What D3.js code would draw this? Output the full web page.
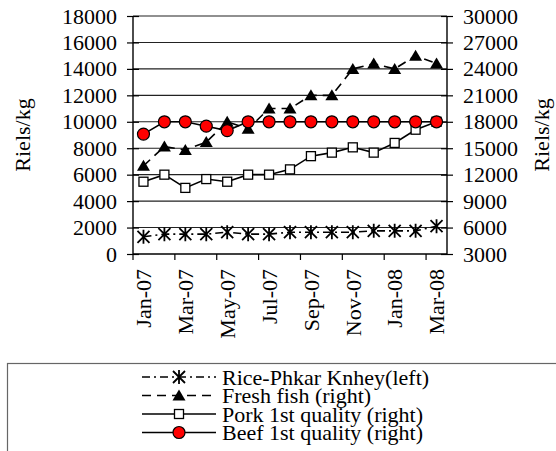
<!DOCTYPE html>
<html>
<head>
<meta charset="utf-8">
<script src="https://cdn.jsdelivr.net/npm/d3@7"></script>
<style>
  body { margin: 0; background: #fff; }
  svg text { font-family: "Liberation Serif", "Times New Roman", "DejaVu Serif", serif; }
</style>
</head>
<body>
<script>
// ==================== Data ============================
const months = ['Jan-07','Feb-07','Mar-07','Apr-07','May-07','Jun-07','Jul-07','Aug-07',
                'Sep-07','Oct-07','Nov-07','Dec-07','Jan-08','Feb-08','Mar-08'];
const rice = [1300,1500,1500,1500,1650,1500,1500,1650,1650,1650,1650,1750,1750,1750,2100];   // left
const fish = [13000,15200,14800,15700,18000,17200,19500,19500,21000,21000,24000,24600,24000,25500,24600]; // right
const pork = [11200,12000,10500,11500,11200,12000,12000,12600,14100,14500,15100,14500,15600,17100,18000]; // right
const beef = [16600,18000,18000,17500,17000,18000,18000,18000,18000,18000,18000,18000,18000,18000,18000]; // right
const leftTicks = [0,2000,4000,6000,8000,10000,12000,14000,16000,18000];
const rightTicks = [3000,6000,9000,12000,15000,18000,21000,24000,27000,30000];
const labelMonths = ['Jan-07','Mar-07','May-07','Jul-07','Sep-07','Nov-07','Jan-08','Mar-08'];
const legendNames = ['Rice-Phkar Knhey(left)','Fresh fish (right)','Pork 1st quality (right)','Beef 1st quality (right)'];

// ==================== Set up ============================
const W = 556, H = 451;
const plot = {left: 133, right: 447, top: 16, bottom: 254};
const fontSize = 22;
const serif = '"Liberation Serif", "Times New Roman", "DejaVu Serif", serif';

const x = d3.scaleBand().domain(months).range([plot.left, plot.right]);
const yLeft = d3.scaleLinear().domain([0, 18000]).range([plot.bottom, plot.top]);
const yRight = d3.scaleLinear().domain([3000, 30000]).range([plot.bottom, plot.top]);
const cx = (i) => x(months[i]) + x.bandwidth() / 2;

const svg = d3.select('body').append('svg')
    .attr('width', W)
    .attr('height', H)
    .attr('font-family', serif);

// Gridlines
svg.append('g')
  .selectAll('line')
  .data(leftTicks.slice(1))
  .enter().append('line')
    .attr('x1', plot.left).attr('x2', plot.right)
    .attr('y1', d => yLeft(d)).attr('y2', d => yLeft(d))
    .attr('stroke', '#222').attr('stroke-width', 1.1);

// Left axis
const gl = svg.append('g')
    .attr('transform', `translate(${plot.left},0)`)
    .call(d3.axisLeft(yLeft).tickValues(leftTicks).tickFormat(d3.format('d')).tickSize(6).tickPadding(10));
gl.attr('font-family', serif).attr('font-size', fontSize);
gl.select('.domain').remove();
gl.selectAll('.tick line').attr('x1', -6).attr('x2', 6).attr('stroke', '#000').attr('stroke-width', 1.2);
gl.selectAll('.tick text').style('font-family', serif).style('font-size', fontSize + 'px').attr('fill', '#000');
gl.append('line').attr('x1', 0).attr('x2', 0).attr('y1', plot.top).attr('y2', plot.bottom)
    .attr('stroke', '#000').attr('stroke-width', 1.4);

// Right axis
const gr = svg.append('g')
    .attr('transform', `translate(${plot.right},0)`)
    .call(d3.axisRight(yRight).tickValues(rightTicks).tickFormat(d3.format('d')).tickSize(6).tickPadding(10));
gr.attr('font-family', serif).attr('font-size', fontSize);
gr.select('.domain').remove();
gr.selectAll('.tick line').attr('x1', -6).attr('x2', 6).attr('stroke', '#000').attr('stroke-width', 1.2);
gr.selectAll('.tick text').style('font-family', serif).style('font-size', fontSize + 'px').attr('fill', '#000');
gr.append('line').attr('x1', 0).attr('x2', 0).attr('y1', plot.top).attr('y2', plot.bottom)
    .attr('stroke', '#000').attr('stroke-width', 1.4);

// X axis
const gx = svg.append('g')
    .attr('transform', `translate(0,${plot.bottom})`)
    .call(d3.axisBottom(x).tickValues(labelMonths).tickSize(0).tickPadding(0));
gx.attr('font-family', serif).attr('font-size', fontSize);
gx.select('.domain').remove();
gx.selectAll('.tick text')
    .style('font-family', serif)
    .style('font-size', fontSize + 'px')
    .attr('fill', '#000')
    .attr('text-anchor', 'end')
    .attr('transform', 'rotate(-90)')
    .attr('x', -15)
    .attr('y', 0)
    .attr('dy', '0.35em');
gx.append('line').attr('x1', plot.left).attr('x2', plot.right).attr('y1', 0).attr('y2', 0)
    .attr('stroke', '#000').attr('stroke-width', 1.4);
gx.selectAll('.bt')
  .data(months.filter((d, i) => i % 2 === 0))
  .enter().append('line')
    .attr('x1', d => x(d)).attr('x2', d => x(d))
    .attr('y1', 0).attr('y2', 6)
    .attr('stroke', '#000').attr('stroke-width', 1.2);

// Axis titles
svg.append('text')
    .attr('transform', `translate(30,${(plot.top + plot.bottom) / 2}) rotate(-90)`)
    .attr('text-anchor', 'middle')
    .style('font-family', serif)
    .style('font-size', fontSize + 'px')
    .text('Riels/kg');
svg.append('text')
    .attr('transform', `translate(549,${(plot.top + plot.bottom) / 2}) rotate(-90)`)
    .attr('text-anchor', 'middle')
    .style('font-family', serif)
    .style('font-size', fontSize + 'px')
    .text('Riels/kg');

// ==================== Markers ============================
const drawMarker = (g, type) => {
  if (type === 'star') {
    g.append('path')
      .attr('d', 'M0,-7V7M-6,-6L6,6M-6,6L6,-6')
      .attr('stroke', '#000').attr('stroke-width', 1.8).attr('fill', 'none');
  } else if (type === 'tri') {
    g.append('path')
      .attr('d', 'M0,-6L6.5,5L-6.5,5Z')
      .attr('fill', '#000');
  } else if (type === 'square') {
    g.append('rect')
      .attr('x', -4.5).attr('y', -4.5).attr('width', 9).attr('height', 9)
      .attr('fill', '#fff').attr('stroke', '#000').attr('stroke-width', 1.3);
  } else if (type === 'circle') {
    g.append('circle')
      .attr('r', 6)
      .attr('fill', '#ff0000').attr('stroke', '#000').attr('stroke-width', 1.2);
  }
};

const series = [
  {name: legendNames[0], values: rice, y: yLeft, marker: 'star', dash: '8,4,2,4'},
  {name: legendNames[1], values: fish, y: yRight, marker: 'tri', dash: '9,6'},
  {name: legendNames[2], values: pork, y: yRight, marker: 'square', dash: null},
  {name: legendNames[3], values: beef, y: yRight, marker: 'circle', dash: null}
];

series.forEach(s => {
  const line = d3.line()
      .x((d, i) => cx(i))
      .y(d => s.y(d));
  svg.append('path')
      .datum(s.values)
      .attr('d', line)
      .attr('fill', 'none')
      .attr('stroke', '#000')
      .attr('stroke-width', 1.6)
      .attr('stroke-dasharray', s.dash);
  s.values.forEach((v, i) => {
    const g = svg.append('g').attr('transform', `translate(${cx(i)},${s.y(v)})`);
    drawMarker(g, s.marker);
  });
});

// ==================== Legend ============================
svg.append('rect')
    .attr('x', 7.5).attr('y', 363.5)
    .attr('width', 600).attr('height', 120)
    .attr('fill', 'none').attr('stroke', '#666').attr('stroke-width', 1.2);

const legendRowY = [377, 395.5, 414, 432.5];
series.forEach((s, i) => {
  const g = svg.append('g').attr('transform', `translate(0,${legendRowY[i]})`);
  g.append('line')
      .attr('x1', 142).attr('x2', 216)
      .attr('stroke', '#000').attr('stroke-width', 1.6)
      .attr('stroke-dasharray', s.dash);
  drawMarker(g.append('g').attr('transform', 'translate(179,0)'), s.marker);
  g.append('text')
      .attr('x', 222)
      .attr('dy', '0.35em')
      .style('font-family', serif)
      .style('font-size', fontSize + 'px')
      .text(s.name);
});
</script>
</body>
</html>
